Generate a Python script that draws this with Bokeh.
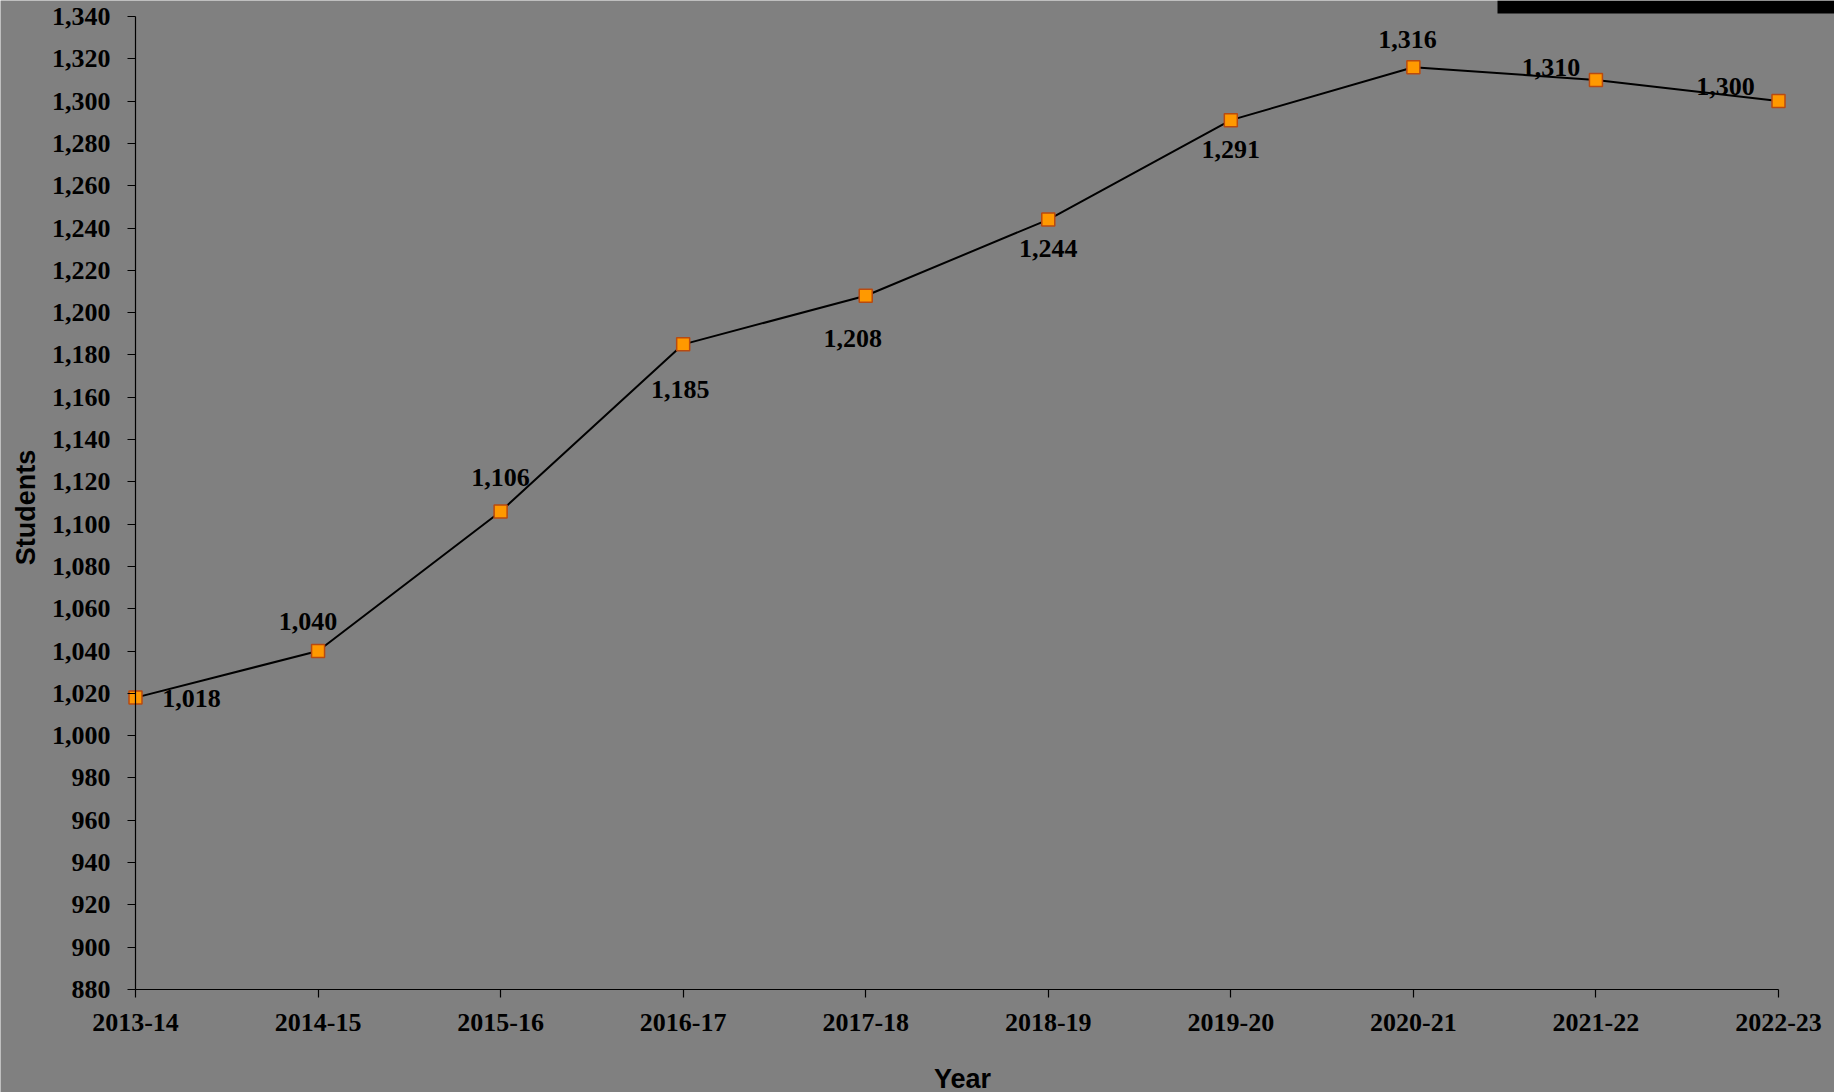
import math
from bokeh.plotting import figure
from bokeh.models import Range1d, FixedTicker, ColumnDataSource, BoxAnnotation, Label
from bokeh.core.properties import value
from bokeh.embed import file_html
from bokeh.resources import INLINE

# ---- data ----
years = ["2013-14", "2014-15", "2015-16", "2016-17", "2017-18",
         "2018-19", "2019-20", "2020-21", "2021-22", "2022-23"]
students = [1018, 1040, 1106, 1185, 1208, 1244, 1291, 1316, 1310, 1300]
y_ticks = list(range(880, 1341, 20))

# label placement offsets (screen px) - style only
label_dx = [56, -10, 0, -3, -13, 0, 0, -6, -45, -53]
label_dy = [1, -30, -34, 45, 43, 29, 29, -28, -12, -15]

# ---- layout (pixels) ----
W, H = 1834, 1092
AX_L, AX_R = 135, 1778     # first / last category
AX_T, AX_B = 16, 989       # top / bottom of y axis

n = len(years)
x_per_px = (n - 1) / (AX_R - AX_L)
y_per_px = (y_ticks[-1] - y_ticks[0]) / (AX_B - AX_T)


def X(px):
    return (px - AX_L) * x_per_px


def Y(py):
    return y_ticks[0] + (AX_B - py) * y_per_px


xs = list(range(n))
labels = [f"{v:,}" for v in students]
src = ColumnDataSource(dict(x=xs, y=students, lbl=labels, dx=label_dx, dy=label_dy))

p = figure(width=W, height=H, output_backend="svg", toolbar_location=None,
           x_range=Range1d(X(0), X(W)), y_range=Range1d(Y(H), Y(0)),
           min_border_left=0, min_border_right=0, min_border_top=0,
           min_border_bottom=0)
p.background_fill_color = "#808080"
p.border_fill_color = "#808080"
p.outline_line_color = None
p.xgrid.visible = False
p.ygrid.visible = False

# legend remnant box at top right
p.add_layout(BoxAnnotation(left=X(1497), bottom=Y(13),
                           fill_color="black", fill_alpha=1.0, line_color=None))

p.line("x", "y", source=src, line_color="black", line_width=2)
p.scatter("x", "y", source=src, marker="square", size=13, fill_color="#FF9900",
          line_color="#B84A10", line_width=1.5)
p.text("x", "y", text="lbl", source=src, x_offset="dx", y_offset="dy",
       text_align="center", text_baseline="middle",
       text_font=value("Liberation Serif"), text_font_style="bold",
       text_font_size="26px", text_color="black")

for ax in (p.xaxis[0], p.yaxis[0]):
    ax.axis_line_color = "black"
    ax.axis_line_width = 1.2
    ax.major_tick_line_color = "black"
    ax.major_tick_line_width = 1.2
    ax.major_tick_out = 8
    ax.major_tick_in = 0
    ax.minor_tick_line_color = None
    ax.major_label_text_font = "Liberation Serif"
    ax.major_label_text_font_style = "bold"
    ax.major_label_text_font_size = "26px"
    ax.major_label_text_color = "black"

p.xaxis.ticker = FixedTicker(ticks=xs)
p.xaxis.major_label_overrides = {i: y for i, y in enumerate(years)}
p.xaxis.bounds = (0, n - 1)
p.xaxis.fixed_location = y_ticks[0]
p.xaxis.major_label_standoff = 16

p.yaxis.ticker = FixedTicker(ticks=y_ticks)
p.yaxis.major_label_overrides = {v: f"{v:,}" for v in y_ticks}
p.yaxis.bounds = (y_ticks[0], y_ticks[-1])
p.yaxis.fixed_location = 0
p.yaxis.major_label_standoff = 17

title_style = dict(text_font="Liberation Sans", text_font_style="bold",
                   text_font_size="27px", text_color="black",
                   text_align="center", text_baseline="middle")
p.add_layout(Label(x=X(962), y=Y(1078), text="Year", **title_style))
p.add_layout(Label(x=X(25), y=Y(507), text="Students", angle=math.pi / 2, **title_style))

open("out.html", "w").write(file_html(p, INLINE))
